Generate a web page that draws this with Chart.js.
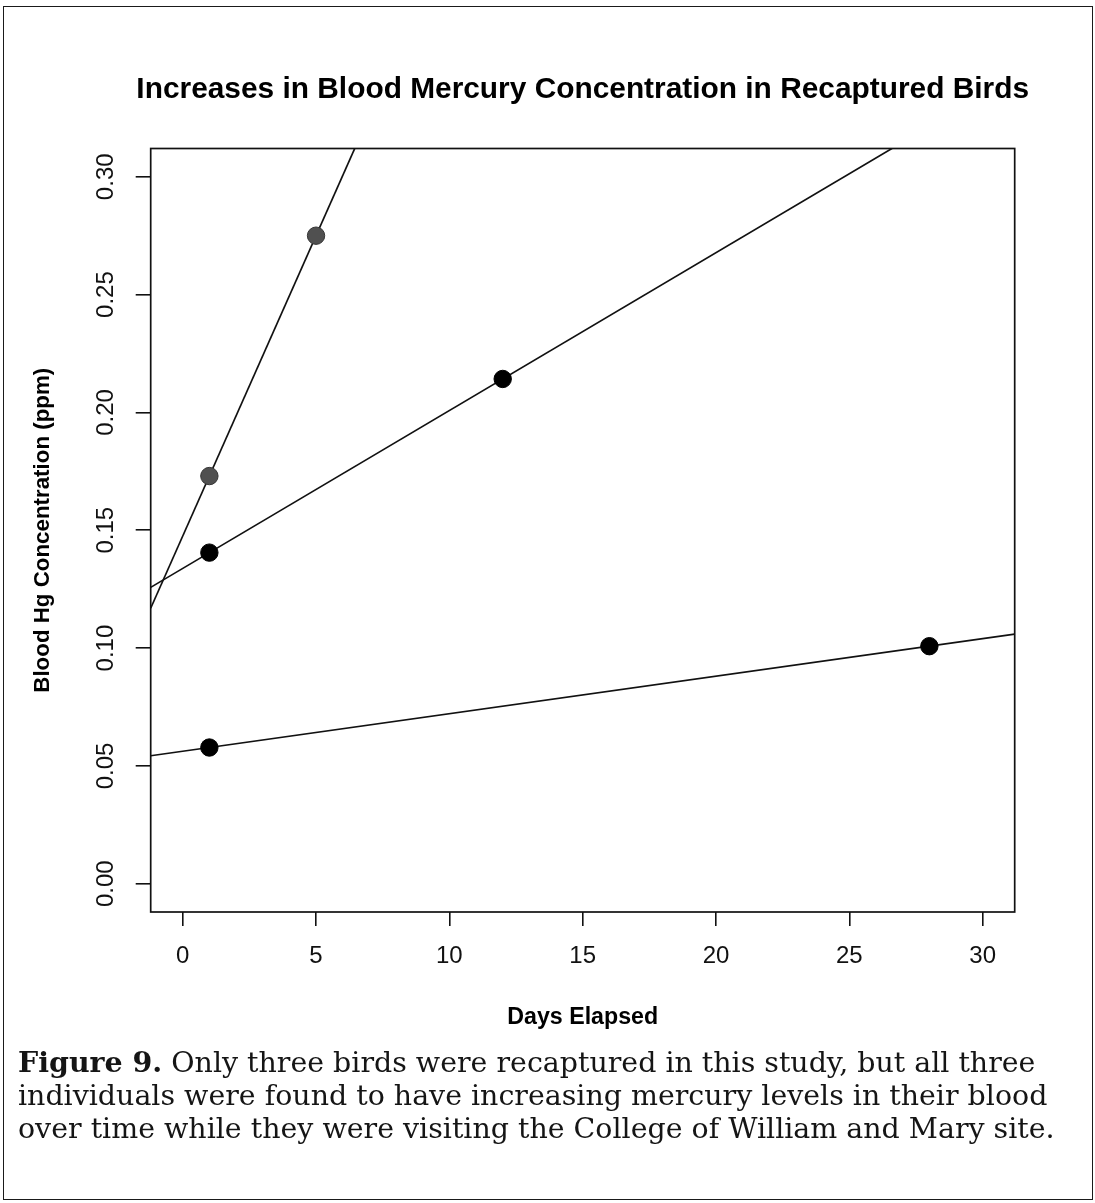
<!DOCTYPE html>
<html><head><meta charset="utf-8">
<script src="https://cdn.jsdelivr.net/npm/chart.js@4.4.1/dist/chart.umd.min.js"></script>
<style>
html,body{margin:0;padding:0;background:#fff;}
#wrap{position:relative;width:1095px;height:1203px;overflow:hidden;background:#fff;}
#frame{position:absolute;left:3px;top:6px;width:1090px;height:1194px;border:1.5px solid #1a1a1a;box-sizing:border-box;}
#c{position:absolute;left:0;top:0;}
#caption{position:absolute;left:18px;top:1046px;font-family:'DejaVu Serif',serif;color:#151515;line-height:33px;white-space:nowrap;}
</style></head><body>
<div id="wrap"><div id="frame"></div><canvas id="c" width="1095" height="1203"></canvas><div id="caption"></div></div>
<script>
// ---- data ----
const titleText = 'Increases in Blood Mercury Concentration in Recaptured Birds';
const xTitle = 'Days Elapsed';
const yTitle = 'Blood Hg Concentration (ppm)';
const bird1Days = [1, 5];
const bird1Hg = [0.173, 0.275];
const bird2Days = [1, 12];
const bird2Hg = [0.1405, 0.2142];
const bird3Days = [1, 28];
const bird3Hg = [0.0578, 0.1008];
const xTicks = [0, 5, 10, 15, 20, 25, 30];
const xTickLabels = ['0', '5', '10', '15', '20', '25', '30'];
const yTicks = [0, 0.05, 0.10, 0.15, 0.20, 0.25, 0.30];
const yTickLabels = ['0.00', '0.05', '0.10', '0.15', '0.20', '0.25', '0.30'];
const xLimits = [-1.2, 31.2];
const yLimits = [-0.012, 0.312];
const captionBold = 'Figure 9.';
const captionLines = [
  ' Only three birds were recaptured in this study, but all three',
  'individuals were found to have increasing mercury levels in their blood',
  'over time while they were visiting the College of William and Mary site.'
];

// ---- layout ----
const W = 1095, H = 1203;
const plotLeft = 150.7, plotRight = 1014.7, plotTop = 148.5, plotBottom = 912;
const SANS = "'Liberation Sans', Arial, sans-serif";
const mctx = document.createElement('canvas').getContext('2d');
function fitSize(text, weight, family, target) {
  mctx.font = weight + ' 100px ' + family;
  return 100 * target / mctx.measureText(text).width;
}
const titleSize = fitSize(titleText, 'bold', SANS, 893);
const xTitleSize = fitSize(xTitle, 'bold', SANS, 151);
const yTitleSize = fitSize(yTitle, 'bold', SANS, 325);
const tickSize = 24;
const xTitleLH = xTitleSize * 1.2;
const yTitleLH = yTitleSize * 1.2;

// caption
const capSize = fitSize(captionLines[2], 'normal', "'DejaVu Serif'", 1037);
const cap = document.getElementById('caption');
cap.style.fontSize = capSize.toFixed(2) + 'px';
const l1 = document.createElement('div');
const b = document.createElement('b'); b.textContent = captionBold; l1.appendChild(b);
l1.appendChild(document.createTextNode(captionLines[0]));
cap.appendChild(l1);
for (let i = 1; i < captionLines.length; i++) {
  const d = document.createElement('div'); d.textContent = captionLines[i]; cap.appendChild(d);
}

function lineThrough(xs, ys) {
  const m = (ys[1] - ys[0]) / (xs[1] - xs[0]);
  const c = ys[0] - m * xs[0];
  return xLimits.map(x => ({x: x, y: m * x + c}));
}
function pts(xs, ys) { return xs.map((x, i) => ({x: x, y: ys[i]})); }

const lineDs = (data) => ({type: 'scatter', data, showLine: true, borderColor: '#111', borderWidth: 1.7,
  pointRadius: 0, pointHoverRadius: 0, clip: 0, order: 2});
const ptDs = (data, fill, border) => ({type: 'scatter', data, showLine: false, pointRadius: 8.7,
  pointBackgroundColor: fill, pointBorderColor: border, pointBorderWidth: 1, order: 1});

const boxPlugin = {
  id: 'box',
  beforeDatasetsDraw(chart) {
    const {ctx, chartArea: a} = chart;
    ctx.save(); ctx.strokeStyle = '#111'; ctx.lineWidth = 1.7;
    ctx.strokeRect(a.left, a.top, a.right - a.left, a.bottom - a.top);
    ctx.restore();
  }
};
// main title centred over the plot region (as in R's plot())
const plotTitlePlugin = {
  id: 'plotTitle',
  afterDraw(chart) {
    const {ctx, chartArea: a} = chart;
    ctx.save();
    ctx.font = 'bold ' + titleSize + 'px ' + SANS;
    ctx.fillStyle = '#000'; ctx.textAlign = 'center'; ctx.textBaseline = 'middle';
    ctx.fillText(titleText, (a.left + a.right) / 2, 90);
    ctx.restore();
  }
};

new Chart(document.getElementById('c'), {
  type: 'scatter',
  data: {datasets: [
    lineDs(lineThrough(bird1Days, bird1Hg)),
    lineDs(lineThrough(bird2Days, bird2Hg)),
    lineDs(lineThrough(bird3Days, bird3Hg)),
    ptDs(pts(bird1Days, bird1Hg), '#505050', '#353535'),
    ptDs(pts(bird2Days, bird2Hg), '#000', '#000'),
    ptDs(pts(bird3Days, bird3Hg), '#000', '#000')
  ]},
  options: {
    responsive: false, animation: false, devicePixelRatio: 1,
    layout: {padding: {left: 0, top: plotTop, right: W - plotRight, bottom: 0}},
    plugins: {
      legend: {display: false}, tooltip: {enabled: false}, title: {display: false}
    },
    scales: {
      x: {type: 'linear', position: 'bottom', min: xLimits[0], max: xLimits[1],
        afterBuildTicks: s => { s.ticks = xTicks.map(v => ({value: v})); },
        afterFit: s => { s.height = H - plotBottom; },
        ticks: {autoSkip: false, maxRotation: 0, minRotation: 0, padding: 16, color: '#111',
          font: {family: SANS, size: tickSize},
          callback: (v) => xTickLabels[xTicks.indexOf(v)] ?? ''},
        grid: {display: true, drawOnChartArea: false, drawTicks: true, tickLength: 14, color: '#111', lineWidth: 1.6},
        border: {display: false},
        title: {display: true, text: xTitle, color: '#000',
          font: {family: SANS, size: xTitleSize, weight: 'bold', lineHeight: 1.2},
          padding: {top: 0, bottom: H - 1018 - xTitleLH / 2}}
      },
      y: {type: 'linear', position: 'left', min: yLimits[0], max: yLimits[1],
        afterBuildTicks: s => { s.ticks = yTicks.map(v => ({value: v})); },
        afterFit: s => { s.width = plotLeft; },
        ticks: {autoSkip: false, minRotation: 90, maxRotation: 90, padding: 6, crossAlign: 'center', color: '#111',
          font: {family: SANS, size: tickSize},
          callback: (v) => { const i = yTicks.findIndex(t => Math.abs(t - v) < 1e-9); return i >= 0 ? yTickLabels[i] : ''; }},
        grid: {display: true, drawOnChartArea: false, drawTicks: true, tickLength: 15, color: '#111', lineWidth: 1.6},
        border: {display: false},
        title: {display: true, text: yTitle, color: '#000',
          font: {family: SANS, size: yTitleSize, weight: 'bold', lineHeight: 1.2},
          padding: {top: 43 - yTitleLH / 2, bottom: 0}}
      }
    }
  },
  plugins: [boxPlugin, plotTitlePlugin]
});
</script>
</body></html>
